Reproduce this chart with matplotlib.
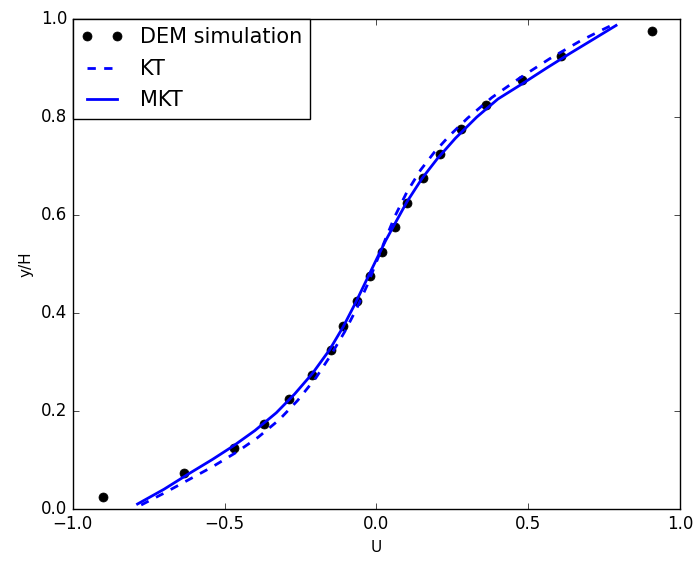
import matplotlib
matplotlib.use("Agg")
import matplotlib.pyplot as plt

plt.style.use("classic")
plt.rcParams["figure.facecolor"] = "white"
plt.rcParams["savefig.facecolor"] = "white"

# DEM simulation points (U, y/H)
dem_u = [-0.900, -0.634, -0.470, -0.372, -0.289, -0.212, -0.150, -0.110, -0.064, -0.020,
         0.019, 0.060, 0.102, 0.152, 0.208, 0.277, 0.362, 0.479, 0.607, 0.908]
dem_y = [0.025, 0.075, 0.125, 0.175, 0.225, 0.275, 0.325, 0.375, 0.425, 0.475,
         0.525, 0.575, 0.625, 0.675, 0.725, 0.775, 0.825, 0.875, 0.925, 0.975]

# KT model curve
kt_u = [-0.775, -0.70, -0.62, -0.54, -0.46, -0.39, -0.32, -0.26, -0.20, -0.15,
        -0.105, -0.065, -0.03, 0.0, 0.03, 0.06, 0.10, 0.145, 0.19, 0.24,
        0.30, 0.38, 0.47, 0.57, 0.67, 0.74, 0.79]
kt_y = [0.009, 0.033, 0.060, 0.087, 0.117, 0.147, 0.183, 0.222, 0.268, 0.315,
        0.362, 0.410, 0.458, 0.505, 0.552, 0.597, 0.647, 0.692, 0.728, 0.762,
        0.798, 0.840, 0.879, 0.919, 0.955, 0.977, 0.992]

# MKT model curve
mkt_u = [-0.787, -0.70, -0.62, -0.54, -0.47, -0.40, -0.33, -0.27, -0.21, -0.155,
         -0.11, -0.07, -0.035, 0.0, 0.03, 0.06, 0.10, 0.15, 0.20, 0.26,
         0.33, 0.40, 0.48, 0.56, 0.64, 0.72, 0.789]
mkt_y = [0.011, 0.041, 0.072, 0.102, 0.130, 0.161, 0.197, 0.235, 0.278, 0.325,
         0.372, 0.420, 0.465, 0.510, 0.548, 0.582, 0.627, 0.675, 0.715, 0.757,
         0.800, 0.837, 0.868, 0.900, 0.931, 0.961, 0.987]

fig = plt.figure(figsize=(6.94, 5.61), dpi=100)
ax = fig.add_axes([0.105, 0.092, 0.875, 0.874])

ax.plot(dem_u, dem_y, "ko", markersize=6.5, label="DEM simulation")
ax.plot(kt_u, kt_y, "b--", linewidth=2, label="KT")
ax.plot(mkt_u, mkt_y, "b-", linewidth=2, label="MKT")

ax.set_xlim(-1, 1)
ax.set_ylim(0, 1)
ax.set_xticks([-1.0, -0.5, 0.0, 0.5, 1.0])
ax.set_yticks([0.0, 0.2, 0.4, 0.6, 0.8, 1.0])
ax.tick_params(labelsize=12)
ax.set_xlabel("U", fontsize=11)
ax.set_ylabel("y/H", fontsize=11)

ax.legend(loc="upper left", fontsize=15, numpoints=2, borderaxespad=0,
          handlelength=2, labelspacing=0.55, fancybox=False)

fig.savefig("out.png", dpi=100)
